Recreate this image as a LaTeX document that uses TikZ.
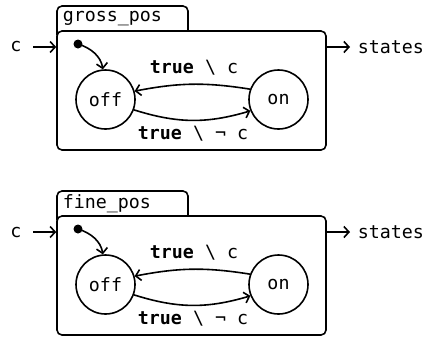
\documentclass[tikz,border=0pt]{standalone}
\usepackage{fontspec}
\setmonofont{DejaVu Sans Mono}
\usetikzlibrary{arrows.meta}

\begin{document}
\begin{tikzpicture}[
        x=1pt,
        y=-1pt,
        line width=1.6pt,
        every node/.style={font=\ttfamily\fontsize{18.3}{22}\selectfont},
        >={Straight Barb[length=5pt,width=11pt]},
        statebox/.style={
            draw,
            fill=white,
            rounded corners=5pt,
            minimum width=269pt,
            minimum height=119pt,
            inner sep=0pt
        },
        locstate/.style={
            draw,
            circle,
            minimum size=59pt,
            inner sep=0pt
        },
        initdot/.style={
            circle,
            fill,
            minimum size=9pt,
            inner sep=0pt
        },
        plain/.style={inner sep=0pt}
    ]
        \useasboundingbox (0,0) rectangle (425,338);

        % Two identical automata, the second one 185px lower.
        \foreach \name/\y/\id in {gross\_pos/0/g, fine\_pos/185/f} {
            % Tab with the automaton's name
            \draw[rounded corners=5pt]
                (57,35+\y) -- (57,6+\y) -- (188,6+\y) -- (188,31+\y);
            \node[plain, anchor=west] (tab\id) at (62,19+\y) {\name};

            % Outer box
            \node[statebox] (box\id) at (191.5,90.5+\y) {};

            % Input and output
            \node[plain] (cin\id) at (16,47+\y) {c};
            \draw[->, shorten <=11pt] (cin\id) -- (cin\id -| box\id.west);
            \node[plain, anchor=west] (out\id) at (357,47+\y) {states};
            \draw[->, shorten >=7pt] (box\id.east |- out\id) -- (out\id.west);

            % States
            \node[locstate] (off\id) at (105.5,99.5+\y) {off};
            \node[locstate] (on\id) at (278.5,99.5+\y) {on};

            % Initial marker
            \node[initdot] (init\id) at (78,44+\y) {};
            \draw[->] (init\id.center) .. controls +(13,4) and +(-2,-13) .. (off\id.95);

            % Transitions
            \draw[->] (on\id.160) to[bend right=10] (off\id.16);
            \draw[->] (off\id.-20) to[bend right=17] (on\id.-158);

            \node[plain] (up\id) at (194,68+\y) {\textbf{true} \textbackslash{} c};
            \node[plain] (low\id) at (193,134+\y) {\textbf{true} \textbackslash{} ¬ c};
        }
    \end{tikzpicture}
\end{document}
